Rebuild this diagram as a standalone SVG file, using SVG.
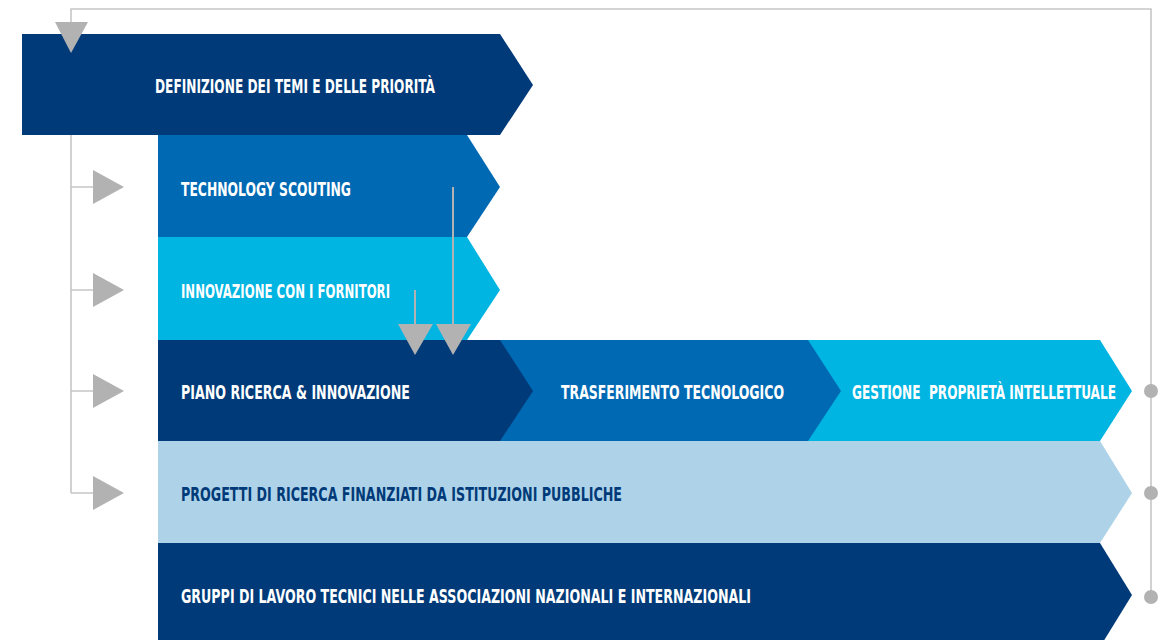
<svg xmlns="http://www.w3.org/2000/svg" width="1160" height="640" viewBox="0 0 1160 640">
<style>
.lbl{font-family:"DejaVu Sans Condensed","DejaVu Sans","Liberation Sans",sans-serif;font-weight:bold;font-size:20px;fill:#ffffff;}
.dk{fill:#003a78;}
.navy{fill:#003a78;}
.mid{fill:#0069b4;}
.cyan{fill:#00b5e2;}
.light{fill:#aed3e8;}
.ln{fill:none;stroke:#c6c6c6;stroke-width:1.6;}
.ar{fill:#b2b2b2;}
.vl{fill:none;stroke:#b2b2b2;stroke-width:2;}
</style>
<rect width="1160" height="640" fill="#ffffff"/>
<g id="connectors-frame">
<path class="ln" d="M71,22 V9 H1151 V597"/>
<path class="ln" d="M71,135 V493 M71,187 H94 M71,290 H94 M71,391 H94 M71,493 H94"/>
</g>
<g id="node-gruppi">
<polygon class="navy" points="158,543 1100,543 1132,595 1100,647 158,647"/>
<text class="lbl" x="181" y="603" textLength="570" lengthAdjust="spacingAndGlyphs">GRUPPI DI LAVORO TECNICI NELLE ASSOCIAZIONI NAZIONALI E INTERNAZIONALI</text>
</g>
<g id="node-progetti">
<polygon class="light" points="158,441 1100,441 1132,493 1100,543 158,543"/>
<text class="lbl dk" x="181" y="501" textLength="441" lengthAdjust="spacingAndGlyphs">PROGETTI DI RICERCA FINANZIATI DA ISTITUZIONI PUBBLICHE</text>
</g>
<g id="node-gestione">
<polygon class="cyan" points="808,340 1100,340 1132,391 1100,441 808,441"/>
<text class="lbl" x="852" y="399" textLength="264" lengthAdjust="spacingAndGlyphs" xml:space="preserve">GESTIONE  PROPRIETÀ INTELLETTUALE</text>
</g>
<g id="node-trasferimento">
<polygon class="mid" points="500,340 808,340 841,391 808,441 500,441"/>
<text class="lbl" x="561" y="399" textLength="223" lengthAdjust="spacingAndGlyphs">TRASFERIMENTO TECNOLOGICO</text>
</g>
<g id="node-piano">
<polygon class="navy" points="158,340 500,340 533,391 500,441 158,441"/>
<text class="lbl" x="181" y="399" textLength="229" lengthAdjust="spacingAndGlyphs">PIANO RICERCA &amp; INNOVAZIONE</text>
</g>
<g id="node-innovazione">
<polygon class="cyan" points="158,237 467,237 500,290 467,340 158,340"/>
<text class="lbl" x="181" y="298" textLength="209" lengthAdjust="spacingAndGlyphs">INNOVAZIONE CON I FORNITORI</text>
</g>
<g id="node-scouting">
<polygon class="mid" points="158,135 467,135 500,187 467,237 158,237"/>
<text class="lbl" x="181" y="196" textLength="170" lengthAdjust="spacingAndGlyphs">TECHNOLOGY SCOUTING</text>
</g>
<g id="node-definizione">
<polygon class="navy" points="22,34 500,34 533,85 500,135 22,135"/>
<text class="lbl" x="155" y="93" textLength="280" lengthAdjust="spacingAndGlyphs">DEFINIZIONE DEI TEMI E DELLE PRIORITÀ</text>
</g>
<g id="connectors">
<polygon class="ar" points="55,22 88,22 71,53"/>
<polygon class="ar" points="93,170 93,204 124,187"/>
<polygon class="ar" points="93,273 93,307 124,290"/>
<polygon class="ar" points="93,374 93,408 124,391"/>
<polygon class="ar" points="93,476 93,510 124,493"/>
<line class="vl" x1="453" y1="187" x2="453" y2="326"/>
<polygon class="ar" points="436,324 471,324 453,355"/>
<line class="vl" x1="415" y1="290" x2="415" y2="326"/>
<polygon class="ar" points="398,324 433,324 415,355"/>
<circle class="ar" cx="1151" cy="391" r="7"/>
<circle class="ar" cx="1151" cy="493" r="7"/>
<circle class="ar" cx="1151" cy="597" r="7"/>
</g>
</svg>
